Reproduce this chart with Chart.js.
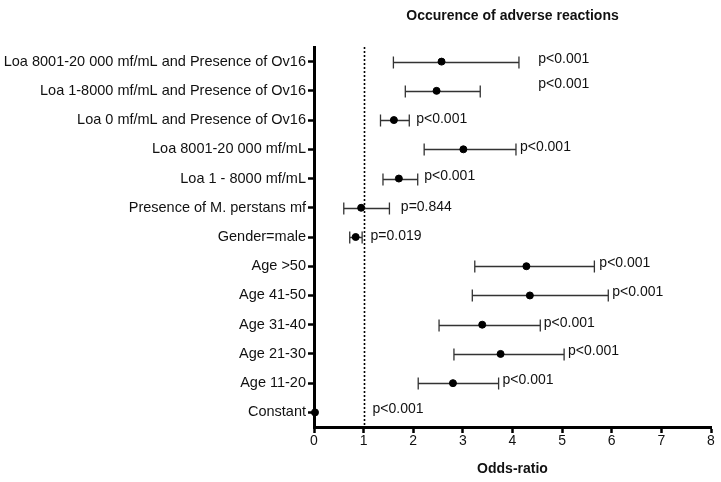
<!DOCTYPE html>
<html>
<head>
<meta charset="utf-8">
<script src="https://cdn.jsdelivr.net/npm/chart.js@4/dist/chart.umd.min.js"></script>
<style>
  html,body{margin:0;padding:0;background:#fff}
  #wrap{width:721px;height:482px}
</style>
</head>
<body>
<div id="wrap"><canvas id="chart"></canvas></div>
<script>
// rows, top to bottom
const labels = [
  'Loa 8001-20 000 mf/mL and Presence of Ov16',
  'Loa 1-8000 mf/mL and Presence of Ov16',
  'Loa 0 mf/mL and Presence of Ov16',
  'Loa 8001-20 000 mf/mL',
  'Loa 1 - 8000 mf/mL',
  'Presence of M. perstans mf',
  'Gender=male',
  'Age >50',
  'Age 41-50',
  'Age 31-40',
  'Age 21-30',
  'Age 11-20',
  'Constant'
];
const oddsRatio = [2.57, 2.47, 1.61, 3.01, 1.71, 0.95, 0.84, 4.28, 4.35, 3.39, 3.76, 2.80, 0.02];
const ciLow     = [1.60, 1.84, 1.34, 2.22, 1.39, 0.60, 0.72, 3.24, 3.19, 2.52, 2.82, 2.10, null];
const ciHigh    = [4.13, 3.35, 1.92, 4.07, 2.09, 1.52, 0.97, 5.65, 5.93, 4.56, 5.04, 3.72, null];
const pValues   = ['p<0.001','p<0.001','p<0.001','p<0.001','p<0.001','p=0.844','p=0.019',
                   'p<0.001','p<0.001','p<0.001','p<0.001','p<0.001','p<0.001'];
// where each p label starts, in odds-ratio units
const pLabelAt  = [4.52, 4.52, 2.06, 4.15, 2.22, 1.75, 1.14, 5.75, 6.01, 4.63, 5.12, 3.80, 1.18];
const xTicks    = [0, 1, 2, 3, 4, 5, 6, 7, 8];
const refLine   = 1;

const FONT = 'Liberation Sans, Arial, Helvetica, sans-serif';
const pLabelNudge = [-2, -7, -1, -2, -2, -1, -1, -3, -3, -2, -3, -3, -3];

// whiskers, reference line, p labels, title
const forestBits = {
  id: 'forestBits',
  beforeDatasetsDraw(chart){
    const {ctx, chartArea, scales:{x, y}} = chart;
    ctx.save();
    // dotted line at OR = 1
    ctx.strokeStyle = '#000';
    ctx.lineWidth = 1.6;
    ctx.setLineDash([2, 2]);
    const xr = Math.round(x.getPixelForValue(refLine)) + 0.5;
    ctx.beginPath();
    ctx.moveTo(xr, chartArea.top);
    ctx.lineTo(xr, chartArea.bottom);
    ctx.stroke();
    ctx.setLineDash([]);
    // error bars
    ctx.strokeStyle = '#333';
    ctx.lineWidth = 1.3;
    labels.forEach((lab, i) => {
      if (ciLow[i] == null) return;
      const yy = Math.round(y.getPixelForValue(i)) + 0.5;
      const x1 = x.getPixelForValue(ciLow[i]);
      const x2 = x.getPixelForValue(ciHigh[i]);
      ctx.beginPath();
      ctx.moveTo(x1, yy); ctx.lineTo(x2, yy);
      ctx.moveTo(x1, yy - 6); ctx.lineTo(x1, yy + 6);
      ctx.moveTo(x2, yy - 6); ctx.lineTo(x2, yy + 6);
      ctx.stroke();
    });
    ctx.restore();
  },
  afterDraw(chart){
    const {ctx, chartArea, scales:{x, y}} = chart;
    ctx.save();
    ctx.fillStyle = '#111';
    ctx.font = '14px ' + FONT;
    ctx.textAlign = 'left';
    ctx.textBaseline = 'middle';
    pValues.forEach((p, i) => {
      ctx.fillText(p, x.getPixelForValue(pLabelAt[i]), y.getPixelForValue(i) + pLabelNudge[i]);
    });
    ctx.font = 'bold 14px ' + FONT;
    ctx.textAlign = 'center';
    ctx.fillText('Occurence of adverse reactions', (chartArea.left + chartArea.right) / 2, 16);
    ctx.restore();
  }
};

new Chart(document.getElementById('chart'), {
  type: 'scatter',
  data: {
    labels,
    datasets: [{
      data: oddsRatio.map((v, i) => ({x: v, y: labels[i]})),
      backgroundColor: '#000',
      borderColor: '#000',
      pointRadius: 3.5,
      pointHoverRadius: 3.5,
      clip: false
    }]
  },
  options: {
    responsive: true,
    maintainAspectRatio: false,
    animation: false,
    layout: {padding: {top: 47, right: 10, left: 0, bottom: 0}},
    plugins: {legend: {display: false}, tooltip: {enabled: false}},
    scales: {
      x: {
        type: 'linear',
        min: 0, max: 8,
        afterBuildTicks: s => { s.ticks = xTicks.map(v => ({value: v})); },
        afterFit: s => { s.height = 55; },
        border: {display: true, color: '#000', width: 3},
        grid: {drawOnChartArea: false, drawTicks: true, tickLength: 6, tickWidth: 2.5, tickColor: '#000'},
        ticks: {color: '#111', font: {family: FONT, size: 14}, padding: 0},
        title: {display: true, text: 'Odds-ratio', color: '#111',
                font: {family: FONT, size: 14, weight: 'bold'}, padding: {top: 5}}
      },
      y: {
        type: 'category',
        labels,
        offset: true,
        afterFit: s => { s.width = 314; },
        border: {display: true, color: '#000', width: 3},
        grid: {drawOnChartArea: false, drawTicks: true, tickLength: 6, tickWidth: 2.5, tickColor: '#000', offset: false},
        ticks: {color: '#111', font: {family: FONT, size: 14.5}, padding: 2, autoSkip: false}
      }
    }
  },
  plugins: [forestBits]
});
</script>
</body>
</html>
